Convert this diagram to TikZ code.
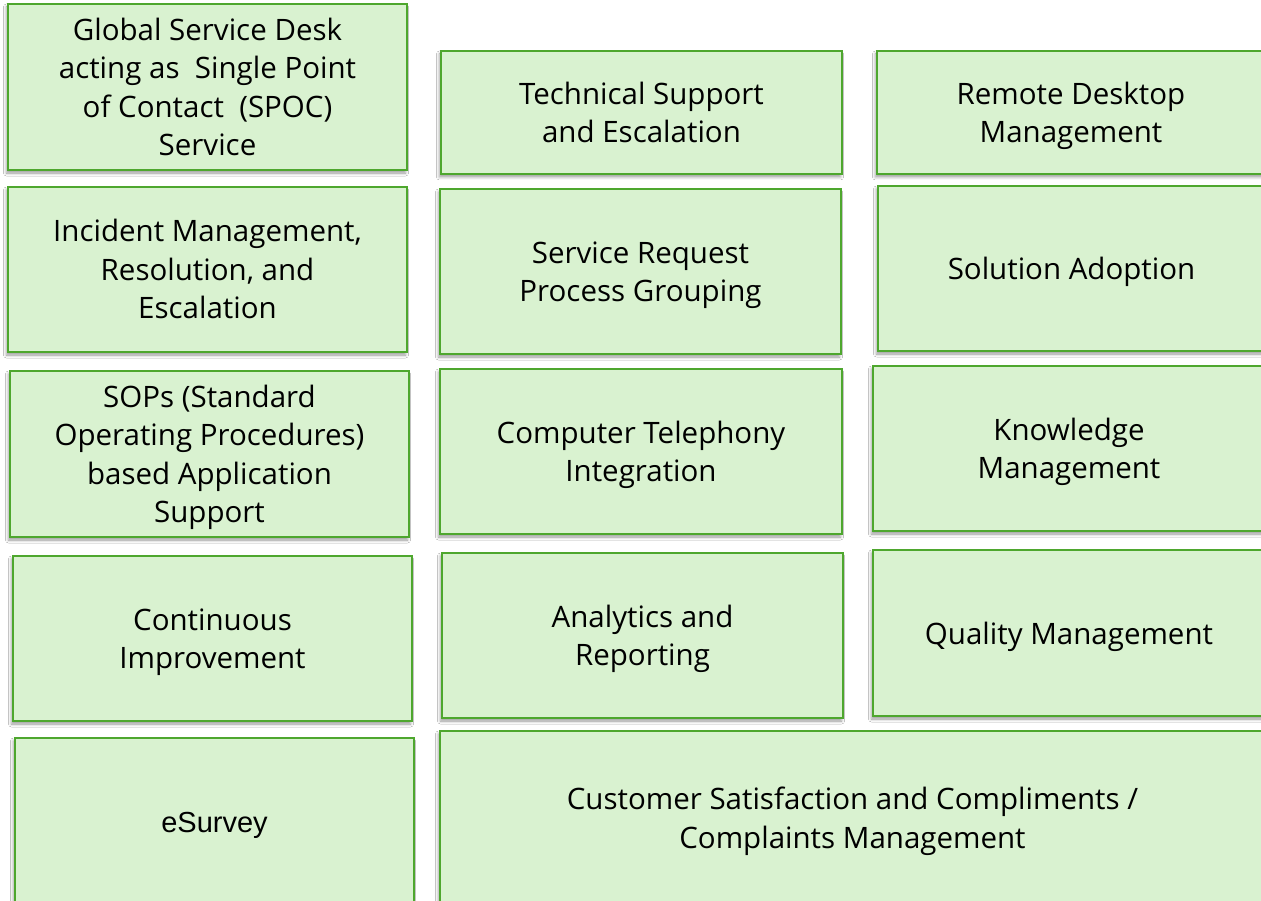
\documentclass[tikz,border=0pt]{standalone}
\usepackage{fontspec}
\setmainfont{Open Sans}
\newfontfamily\arialf{Liberation Sans}
\usetikzlibrary{shadows.blur}
\definecolor{boxfill}{HTML}{D9F2D0}
\definecolor{boxline}{HTML}{4EA72E}
\newcommand{\bs}{\rule[-9pt]{0pt}{40pt}}
\tikzset{
  box/.style={draw=boxline, line width=1.6pt, fill=boxfill, rectangle,
    align=center, inner sep=0pt, text=black,
    font=\fontsize{29.5}{38.5}\selectfont,
    execute at end node=\bs,
    blur shadow={shadow xshift=-1.5pt, shadow yshift=-3pt, shadow blur radius=3pt, shadow opacity=40}},
  arialtext/.style={font=\arialf\fontsize{29}{37}\selectfont}
}
\begin{document}
\begin{tikzpicture}[x=1pt,y=-1pt]
\useasboundingbox (0,0) rectangle (1261,901);
\fill[white] (0,0) rectangle (1261,901);
\node[box, minimum width=399pt, minimum height=166pt] (a) at (207.5,87) {\bs Global Service Desk\\acting as \ Single Point\\of Contact \ (SPOC)\\Service};
\node[box, minimum width=401pt, minimum height=123pt] (b) at (641.5,112.5) {\bs Technical Support\\and Escalation};
\node[box, minimum width=388pt, minimum height=123pt] (c) at (1071,112.5) {\bs Remote Desktop\\Management};
\node[box, minimum width=399pt, minimum height=165pt] (d) at (207.5,269.5) {\bs Incident Management,\\Resolution, and\\Escalation};
\node[box, minimum width=401pt, minimum height=165pt] (e) at (640.5,271.5) {\bs Service Request\\Process Grouping};
\node[box, minimum width=387pt, minimum height=165pt] (f) at (1071.5,268.5) {\bs Solution Adoption};
\node[box, minimum width=399pt, minimum height=166pt] (g) at (209.5,454) {\bs SOPs (Standard\\Operating Procedures)\\based Application\\Support};
\node[box, minimum width=402pt, minimum height=165pt] (h) at (641,451.5) {\bs Computer Telephony\\Integration};
\node[box, minimum width=392pt, minimum height=165pt] (i) at (1069,448.5) {\bs Knowledge\\Management};
\node[box, minimum width=399pt, minimum height=165pt] (j) at (212.5,638.5) {\bs Continuous\\Improvement};
\node[box, minimum width=401pt, minimum height=165pt] (k) at (642.5,635.5) {\bs Analytics and\\Reporting};
\node[box, minimum width=392pt, minimum height=166pt] (l) at (1069,633) {\bs Quality Management};
\node[box, arialtext, minimum width=399pt, minimum height=167pt] (m) at (214.5,821.5) {\bs eSurvey};
\node[box, minimum width=825pt, minimum height=174pt] (n) at (852.5,818) {\bs Customer Satisfaction and Compliments /\\Complaints Management};
\end{tikzpicture}
\end{document}
